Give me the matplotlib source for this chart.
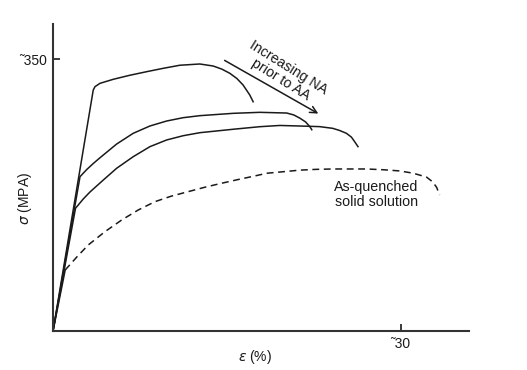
import matplotlib
matplotlib.use("Agg")
import matplotlib.pyplot as plt

plt.rcParams["font.family"] = ["Liberation Sans", "DejaVu Sans"]
plt.rcParams["mathtext.fontset"] = "dejavusans"

# strain (%) / stress (MPa)
top_eps = [0, 3.47, 3.62, 4.05, 5.2, 6.6, 8.08, 9.5, 10.95, 12.67, 13.82, 14.57, 15.26, 15.86, 16.4, 16.98, 17.27]
top_sig = [0, 310, 314.4, 318.7, 323.9, 329, 333.7, 338, 342, 343.6, 341, 337, 331.6, 325, 316.6, 303.7, 295]

mid_eps = [0, 2.33, 2.91, 3.47, 4.05, 5.49, 6.92, 8.36, 9.80, 11.23, 12.67, 15.54, 17.84, 20.17, 20.78, 21.29, 21.8, 22.16, 22.33]
mid_sig = [0, 198.6, 207.8, 215.5, 222.9, 240.6, 254.4, 263.8, 270.2, 274.5, 277.1, 280.1, 281.4, 280.5, 278, 274, 269, 263, 259]

low_eps = [0, 1.94, 2.61, 3.19, 4.34, 5.49, 6.92, 8.36, 9.80, 11.23, 12.67, 15.54, 17.84, 19.57, 21.29, 23.0, 24.14, 24.74, 25.32, 25.75, 26.03, 26.32]
low_sig = [0, 157.9, 169.9, 178.9, 194.3, 209.4, 224.3, 237.2, 245.8, 251.3, 255.2, 259.6, 262.9, 264.5, 263.8, 263, 260.8, 258, 254.4, 249.5, 243.6, 237.2]

aq_eps = [0, 1.05, 2.1, 3.04, 4.48, 5.92, 7.35, 8.79, 10.2, 11.66, 13.1, 14.54, 16.0, 17.41, 18.45, 19.9, 21.29, 22.7, 24.14, 25.6, 27.07, 28.5, 29.91, 31.1, 32.24, 32.75, 33.1, 33.36]
aq_sig = [0, 78.5, 96, 110.7, 127.8, 142.8, 155.7, 166.4, 173.5, 179.3, 185, 190.1, 195, 199.5, 203, 205, 207, 208, 208.5, 208.5, 208.5, 207.5, 206, 203, 198, 192, 185, 175]

x_ticks = [30]
y_ticks = [350]
x_ticklabels = ["\u02dc30"]
y_ticklabels = ["\u02dc350"]

fig = plt.figure(figsize=(5.27, 3.70), dpi=100, facecolor="white")
ax = fig.add_axes([0.1006, 0.1054, 0.7894, 0.8296])

lc = "#1a1a1a"
ax.plot(top_eps, top_sig, color=lc, lw=1.1, solid_joinstyle="round")
ax.plot(mid_eps, mid_sig, color=lc, lw=1.1, solid_joinstyle="round")
ax.plot(low_eps, low_sig, color=lc, lw=1.1, solid_joinstyle="round")
# elastic part is solid, the rest dashed
ax.plot(aq_eps[:2], aq_sig[:2], color=lc, lw=1.1)
ax.plot(aq_eps[1:], aq_sig[1:], color=lc, lw=1.1, ls=(0, (4.5, 3)))

ax.set_xlim(0, 35.9)
ax.set_ylim(0, 395)
ax.set_xticks(x_ticks, x_ticklabels)
ax.set_yticks(y_ticks, y_ticklabels)
ax.tick_params(direction="in", length=5, width=1.2, labelsize=10, pad=4, colors=lc)

for s in ["top", "right"]:
    ax.spines[s].set_visible(False)
for s in ["left", "bottom"]:
    ax.spines[s].set_linewidth(1.5)
    ax.spines[s].set_color("#333333")

ax.set_xlabel(r"$\varepsilon$ (%)", fontsize=10, color=lc)
ax.set_ylabel(r"$\sigma$ (MPA)", fontsize=10, color=lc)
ax.xaxis.set_label_coords(0.486, -0.055)
ax.yaxis.set_label_coords(-0.046, 0.433)

ax.annotate("", xy=(23.1, 278), xytext=(14.6, 350),
            arrowprops=dict(arrowstyle="->", color=lc, lw=1.1, mutation_scale=12))
ax.text(20.0, 331, "Increasing NA\nprior to AA", rotation=-32, rotation_mode="anchor",
        ha="center", va="center", fontsize=10.2, color=lc, linespacing=1.0)
ax.text(27.9, 176, "As-quenched\nsolid solution", ha="center", va="center",
        fontsize=10.3, color=lc, linespacing=1.1)

fig.savefig("out.png", dpi=100, facecolor="white")
